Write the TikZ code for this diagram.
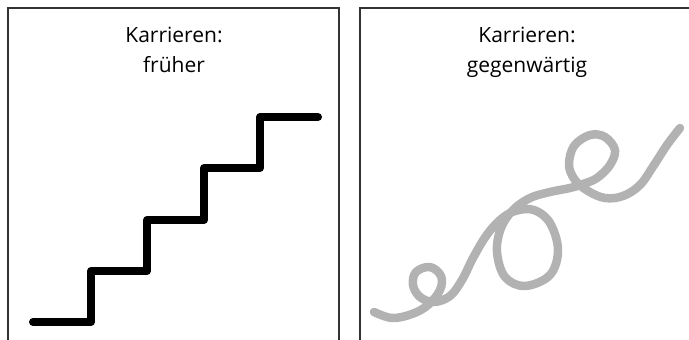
\documentclass[tikz,border=0pt]{standalone}
\usepackage{fontspec}
\setmainfont{Open Sans}
\begin{document}
\begin{tikzpicture}[x=1pt,y=-1pt,
  frame/.style={draw=black!80,line width=1.6pt},
  caption/.style={align=center,font=\fontsize{21}{30}\selectfont,anchor=base,inner sep=0pt},
  stair/.style={line width=8pt,line cap=round,line join=round,black},
  wiggle/.style={line width=8.5pt,line cap=round,line join=round,draw=black!30}]
\useasboundingbox (0,0) rectangle (689,340);

% panel frames, open at the bottom
\draw[frame] (8,345) -- (8,8) -- (339,8) -- (339,345);
\draw[frame] (360,345) -- (360,8) -- (700,8);

% captions (anchored on the baseline of their second line)
\node[caption] (capL) at (174,72) {Karrieren:\\früher};
\node[caption] (capR) at (527,72) {Karrieren:\\gegenwärtig};

% the old career: a straight staircase
\draw[stair] (33,322) -- (91,322) -- (91,271) -- (147,271) -- (147,220)
  -- (204,220) -- (204,168) -- (260,168) -- (260,117) -- (318,117);

% the present career: a looping, meandering line
\draw[wiggle] plot[smooth,tension=0.6] coordinates {
  (374,312) (392,318) (412,314) (428,305) (440,290) (441,276) (430,267)
  (416,272) (413,285) (420,297) (434,302) (450,296) (462,280) (473,258)
  (486,236) (500,220) (515,211) (534,210) (550,223) (558,250) (550,275)
  (525,286) (505,277) (497,252) (501,228) (513,210) (530,198) (550,192)
  (570,188) (583,184) (597,178) (610,165) (615,150) (605,137) (590,135)
  (574,146) (569,165) (575,180) (588,191) (605,198) (623,196) (640,185)
  (654,165) (667,145) (680,128)};
\end{tikzpicture}
\end{document}
